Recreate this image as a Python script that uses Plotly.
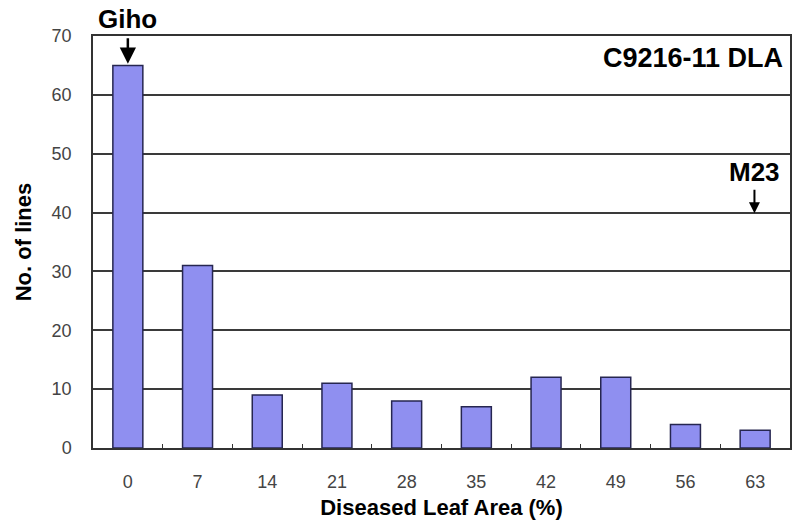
import plotly.graph_objects as go

categories = ["0", "7", "14", "21", "28", "35", "42", "49", "56", "63"]
counts = [65, 31, 9, 11, 8, 7, 12, 12, 4, 3]
y_ticks = [0, 10, 20, 30, 40, 50, 60, 70]

FONT = "Liberation Sans, Arial, sans-serif"

fig = go.Figure()
fig.add_trace(go.Bar(
    x=categories, y=counts, width=0.43,
    marker=dict(color="#8f8ff0", line=dict(color="#262650", width=1.5)),
))

# Giho marker
fig.add_annotation(x="0", y=65.3, ax=0, ay=-27, xref="x", yref="y", text="",
                   showarrow=True, arrowhead=2, arrowsize=1.3, arrowwidth=2.5, arrowcolor="black")
fig.add_annotation(x="0", y=1.041, xref="x", yref="paper", yanchor="middle", text="<b>Giho</b>",
                   showarrow=False, font=dict(family=FONT, size=26, color="black"))
# M23 marker
fig.add_annotation(x=8.99, y=39.9, ax=0, ay=-25, xref="x", yref="y", text="",
                   showarrow=True, arrowhead=2, arrowsize=1.1, arrowwidth=2, arrowcolor="black")
fig.add_annotation(x=8.99, y=46.9, xref="x", yref="y", yanchor="middle", text="<b>M23</b>",
                   showarrow=False, font=dict(family=FONT, size=26, color="black"))
# Panel label
fig.add_annotation(x=0.993, y=66.3, xref="paper", yref="y", xanchor="right", yanchor="middle",
                   text="<b>C9216-11 DLA</b>", showarrow=False,
                   font=dict(family=FONT, size=27, color="black"))

fig.update_layout(
    width=797, height=526,
    margin=dict(l=93, r=5, t=36, b=78),
    paper_bgcolor="white", plot_bgcolor="white",
    showlegend=False,
)
fig.update_xaxes(
    type="category", categoryorder="array", categoryarray=categories,
    range=[-0.5, 9.5],
    showline=True, linecolor="#333333", linewidth=1.5, mirror=True,
    ticks="inside", ticklen=4, tickcolor="#333333", tickson="boundaries",
    showgrid=False,
    tickfont=dict(family=FONT, size=18, color="#444444"),
    ticklabelstandoff=17,
    title=dict(text="<b>Diseased Leaf Area (%)</b>", standoff=8,
               font=dict(family=FONT, size=22, color="black")),
)
fig.update_yaxes(
    range=[0, 70], tickvals=y_ticks,
    showline=True, linecolor="#333333", linewidth=1.5, mirror=True,
    showgrid=True, gridcolor="#3a3a3a", gridwidth=1.5,
    ticks="", zeroline=False,
    tickfont=dict(family=FONT, size=18, color="#444444"),
    ticklabelstandoff=16,
    title=dict(text="<b>No. of lines</b>", standoff=14,
               font=dict(family=FONT, size=22, color="black")),
)

fig.write_html("out.html", config={"displayModeBar": False},
               post_script="document.body.style.margin='0';")
